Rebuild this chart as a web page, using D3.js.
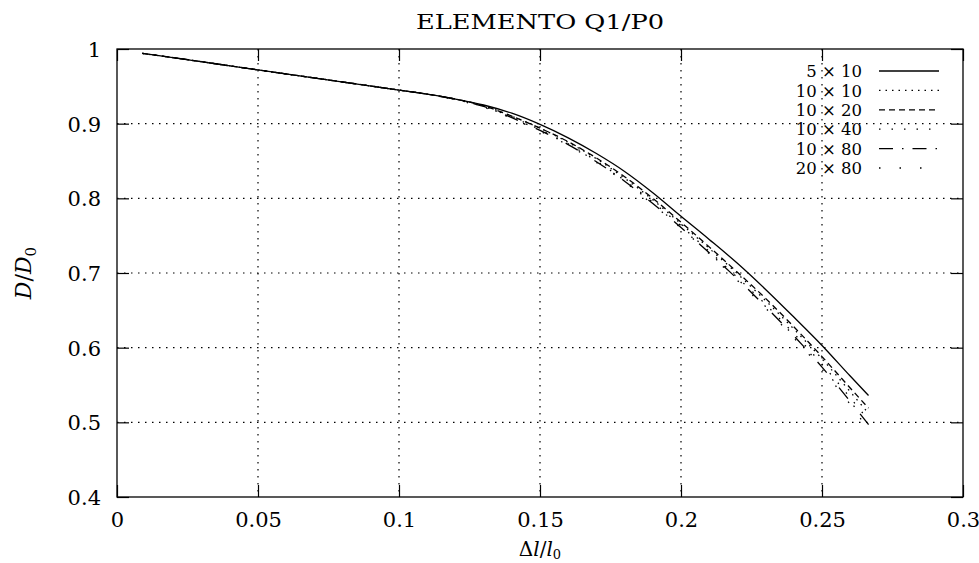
<!DOCTYPE html>
<html>
<head>
<meta charset="utf-8">
<script src="https://cdn.jsdelivr.net/npm/d3@7/dist/d3.min.js"></script>
<style>
  body { margin: 0; background: #fff; }
  svg text { font-family: "DejaVu Serif", serif; fill: #000; }
</style>
</head>
<body>
<div id="chart"></div>
<script>

// data
var strain = [0.009, 0.013, 0.05, 0.1, 0.11, 0.12, 0.13, 0.14, 0.15, 0.16, 0.17, 0.18, 0.19, 0.2, 0.21, 0.22, 0.23, 0.24, 0.25, 0.26, 0.2665];
var mesh5x10  = [null, 0.992, 0.972, 0.945, 0.9395, 0.933, 0.925, 0.914, 0.899, 0.881, 0.860, 0.836, 0.8075, 0.776, 0.745, 0.713, 0.678, 0.641, 0.603, 0.562, 0.536];
var mesh10x10 = [0.994, 0.992, 0.972, 0.945, 0.9395, 0.933, 0.924, 0.910, 0.894, 0.875, 0.853, 0.827, 0.798, 0.766, 0.733, 0.699, 0.663, 0.625, 0.585, 0.541, 0.512];
var mesh10x20 = [0.994, 0.992, 0.972, 0.945, 0.9395, 0.933, 0.924, 0.910, 0.894, 0.876, 0.854, 0.829, 0.800, 0.768, 0.735, 0.701, 0.666, 0.628, 0.588, 0.546, 0.519];
var mesh10x40 = [0.994, 0.992, 0.972, 0.945, 0.9395, 0.9325, 0.923, 0.909, 0.892, 0.873, 0.850, 0.824, 0.795, 0.763, 0.729, 0.694, 0.658, 0.619, 0.578, 0.533, 0.503];
var mesh10x80 = [0.994, 0.992, 0.972, 0.945, 0.9395, 0.9325, 0.923, 0.908, 0.891, 0.872, 0.849, 0.823, 0.793, 0.761, 0.727, 0.692, 0.655, 0.616, 0.574, 0.528, 0.497];
var mesh20x80 = [0.994, 0.992, 0.972, 0.945, 0.9395, 0.932, 0.922, 0.907, 0.890, 0.871, 0.848, 0.822, 0.792, 0.760, 0.726, 0.690, 0.653, 0.613, 0.571, 0.524, 0.490];

var seriesNames = ["5 \u00d7 10", "10 \u00d7 10", "10 \u00d7 20", "10 \u00d7 40", "10 \u00d7 80", "20 \u00d7 80"];
var xTicks = [0, 0.05, 0.1, 0.15, 0.2, 0.25, 0.3];
var yTicks = [0.4, 0.5, 0.6, 0.7, 0.8, 0.9, 1];

var series = [mesh5x10, mesh10x10, mesh10x20, mesh10x40, mesh10x80, mesh20x80];
var dashes = ["none", "1.5,5", "6,4", "1.5,11", "14,9,1.5,9", "1.5,19"];

// dimensions
var margin = {top: 49, right: 16, bottom: 66, left: 117},
    width = 979 - margin.left - margin.right,
    height = 563 - margin.top - margin.bottom;

var svg = d3.select("#chart")
  .append("svg")
    .attr("width", 979)
    .attr("height", 563)
  .append("g")
    .attr("transform", "translate(" + margin.left + "," + margin.top + ")");

var x = d3.scaleLinear().domain([0, 0.3]).range([0, width]);
var y = d3.scaleLinear().domain([0.4, 1]).range([height, 0]);

// grid
svg.selectAll(".gx")
  .data(xTicks.slice(1, -1))
  .enter().append("line")
    .attr("x1", function(d) { return x(d); })
    .attr("x2", function(d) { return x(d); })
    .attr("y1", 0).attr("y2", height)
    .attr("stroke", "#000").attr("stroke-width", 1.2)
    .attr("stroke-dasharray", "1.5,5.5");
svg.selectAll(".gy")
  .data(yTicks.slice(1, -1))
  .enter().append("line")
    .attr("y1", function(d) { return y(d); })
    .attr("y2", function(d) { return y(d); })
    .attr("x1", 0).attr("x2", width)
    .attr("stroke", "#000").attr("stroke-width", 1.2)
    .attr("stroke-dasharray", "1.5,5.5");

// axes, ticks pointing inward on all sides
var fmt = function(d) { return String(+d.toFixed(2)); };
var axB = svg.append("g").attr("transform", "translate(0," + height + ")")
  .call(d3.axisBottom(x).tickValues(xTicks).tickFormat(fmt).tickSizeInner(-12).tickSizeOuter(0).tickPadding(21));
var axL = svg.append("g")
  .call(d3.axisLeft(y).tickValues(yTicks).tickFormat(fmt).tickSizeInner(-12).tickSizeOuter(0).tickPadding(22));
var axT = svg.append("g")
  .call(d3.axisTop(x).tickValues(xTicks).tickFormat("").tickSizeInner(-12).tickSizeOuter(0));
var axR = svg.append("g").attr("transform", "translate(" + width + ",0)")
  .call(d3.axisRight(y).tickValues(yTicks).tickFormat("").tickSizeInner(-12).tickSizeOuter(0));

[axB, axL, axT, axR].forEach(function(a) {
  a.attr("font-family", null).attr("font-size", null);
  a.select(".domain").remove();
  a.selectAll("line").attr("stroke", "#000").attr("stroke-width", 1.2);
  a.selectAll("text").style("font-size", "21px").attr("fill", "#000");
});
axB.selectAll("text").attr("dy", "0.45em");
axL.selectAll("text").attr("dx", "6px").attr("dy", "0.35em");

// frame
svg.append("rect")
  .attr("width", width).attr("height", height)
  .attr("fill", "none").attr("stroke", "#000").attr("stroke-width", 1.3);

// curves
var line = d3.line()
  .defined(function(d) { return d[1] != null; })
  .x(function(d) { return x(d[0]); })
  .y(function(d) { return y(d[1]); })
  .curve(d3.curveMonotoneX);

series.forEach(function(s, i) {
  var pts = strain.map(function(v, j) { return [v, s[j]]; });
  svg.append("path")
    .datum(pts)
    .attr("d", line)
    .attr("fill", "none")
    .attr("stroke", "#000")
    .attr("stroke-width", 1.3)
    .attr("stroke-dasharray", dashes[i]);
});

// legend
var legend = svg.append("g").attr("transform", "translate(" + (x(0.25) + 40) + ",22)");
seriesNames.forEach(function(name, i) {
  var row = legend.append("g").attr("transform", "translate(0," + (i * 19.4) + ")");
  row.append("text")
    .attr("x", 0).attr("y", 0).attr("dy", "0.38em")
    .attr("text-anchor", "end")
    .style("font-size", "16.5px")
    .text(name);
  row.append("line")
    .attr("x1", 17).attr("x2", 77).attr("y1", 0).attr("y2", 0)
    .attr("stroke", "#000").attr("stroke-width", 1.3)
    .attr("stroke-dasharray", dashes[i]);
});

// title and axis labels
svg.append("text")
  .attr("x", width / 2).attr("y", -20)
  .attr("text-anchor", "middle")
  .style("font-size", "21px")
  .attr("textLength", 248)
  .attr("lengthAdjust", "spacingAndGlyphs")
  .text("ELEMENTO Q1/P0");

var xl = svg.append("text")
  .attr("x", width / 2).attr("y", height + 59)
  .attr("text-anchor", "middle")
  .style("font-size", "20px");
xl.append("tspan").text("\u0394");
xl.append("tspan").style("font-style", "italic").text("l");
xl.append("tspan").text("/");
xl.append("tspan").style("font-style", "italic").text("l");
xl.append("tspan").attr("dy", 3).style("font-size", "13px").text("0");

var yl = svg.append("text")
  .attr("transform", "translate(-86," + (height / 2) + ") rotate(-90)")
  .attr("text-anchor", "middle")
  .style("font-size", "22px");
yl.append("tspan").style("font-style", "italic").text("D");
yl.append("tspan").text("/");
yl.append("tspan").style("font-style", "italic").text("D");
yl.append("tspan").attr("dy", 5).style("font-size", "15px").text("0");

</script>
</body>
</html>
